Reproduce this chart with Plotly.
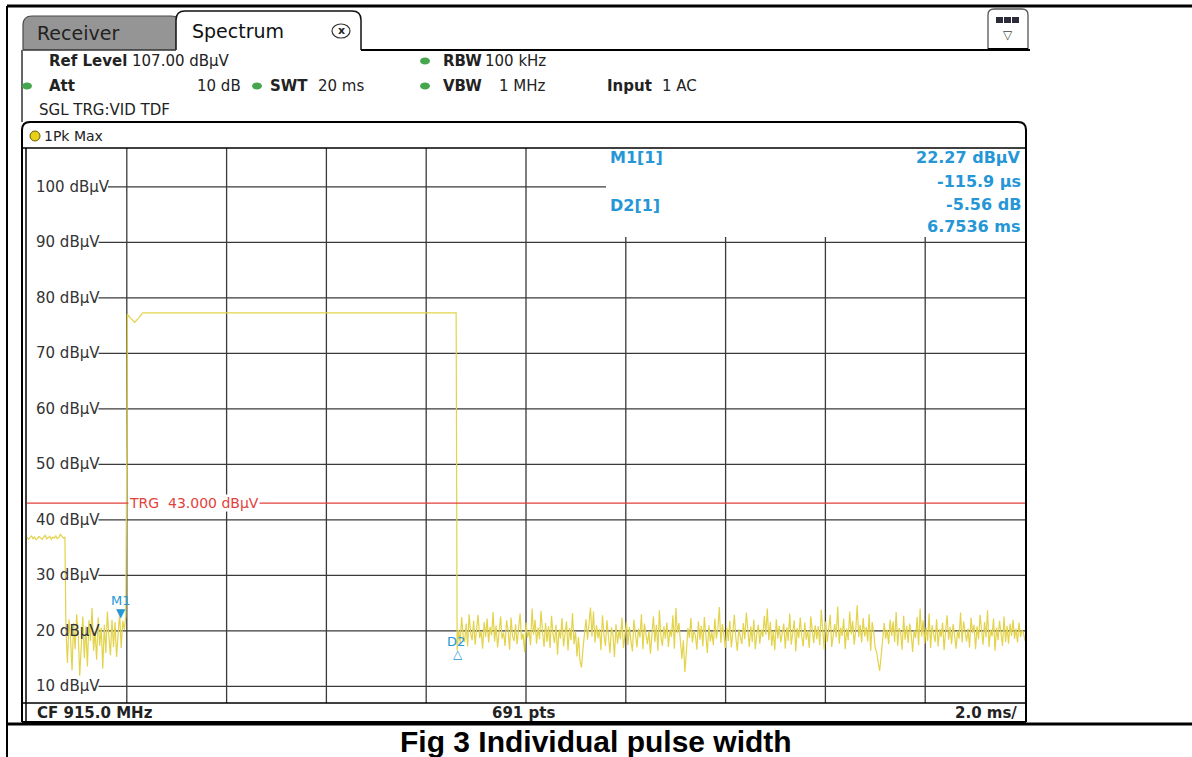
import numpy as np
import plotly.graph_objects as go

W, H = 1192, 757

# ---------------- data ----------------
pre_levels = [36.9, 36.5, 36.8, 37.1, 36.6, 36.9, 36.4, 36.8, 37.0, 36.7, 36.5, 36.9, 37.2,
              36.6, 36.8, 37.0, 36.5, 36.9, 36.7, 37.1, 36.6, 36.8, 37.4, 37.0, 36.7, 36.9]
noise1_levels = [20.3, 14.2, 22.1, 18.6, 12.9, 21.4, 16.7, 23.0, 19.5, 11.9, 17.8, 22.6, 15.1, 20.8,
                 13.6, 21.9, 18.2, 24.1, 16.4, 19.9, 14.8, 22.4, 17.3, 20.6, 13.2, 21.1, 16.0, 23.5,
                 18.9, 15.6, 22.0, 17.1, 21.6, 15.3, 19.4, 23.3, 16.9, 21.8, 20.2, 22.6]
pulse_times = [2.00, 2.01, 2.08, 2.16, 2.24, 2.32, 8.60]
pulse_levels = [55.0, 77.0, 76.3, 75.6, 76.4, 77.3, 77.3]
noise2_levels = [
    16.4, 20.2, 17.8, 22.5, 19.1, 18.0, 21.3, 17.2, 23.0, 19.6,
    18.3, 21.8, 17.5, 20.4, 22.9, 18.7, 19.9, 16.8, 21.6, 18.9,
    22.2, 17.9, 20.7, 19.2, 23.4, 18.1, 21.0, 17.0, 20.3, 22.6,
    18.6, 19.7, 17.3, 21.9, 20.1, 16.6, 22.4, 19.0, 18.2, 21.2,
    17.6, 20.9, 23.1, 18.4, 19.5, 16.2, 21.5, 18.8, 20.0, 17.4,
    24.0, 19.3, 22.0, 17.7, 20.6, 18.5, 23.6, 19.8, 17.1, 21.4,
    18.0, 20.8, 16.9, 22.7, 19.4, 17.8, 21.1, 15.7, 20.2, 18.6,
    22.3, 17.2, 19.6, 21.7, 16.4, 20.5, 18.3, 23.2, 17.6, 19.9,
    15.4, 18.9, 14.6, 13.4, 16.8, 19.7, 22.1, 18.4, 20.9, 24.2,
    19.0, 23.5, 17.9, 21.0, 18.7, 20.3, 16.5, 22.8, 19.2, 17.3,
    21.9, 18.1, 16.0, 20.6, 19.4, 15.3, 21.2, 17.7, 20.1, 18.5,
    22.4, 16.9, 19.8, 21.6, 17.4, 20.7, 18.2, 16.3, 22.0, 19.1,
    17.0, 20.4, 18.8, 23.0, 16.7, 21.3, 19.5, 17.6, 20.0, 15.9,
    19.3, 22.6, 18.0, 21.1, 16.4, 23.7, 19.0, 17.3, 20.8, 18.6,
    21.5, 17.1, 20.2, 18.9, 22.8, 16.8, 24.1, 19.6, 21.4, 17.5,
    15.0, 18.3, 12.6, 16.2, 20.5, 18.7, 22.3, 17.9, 20.0, 19.2,
    16.6, 21.7, 18.4, 20.9, 17.2, 22.5, 19.0, 16.0, 21.0, 18.1,
    19.8, 17.4, 22.2, 18.6, 20.4, 24.3, 17.8, 21.2, 19.4, 16.9,
    20.6, 18.2, 21.8, 17.0, 19.7, 22.9, 18.8, 16.4, 20.3, 19.1,
    17.6, 21.4, 18.5, 23.3, 19.9, 17.1, 20.8, 18.0, 22.0, 16.7,
    19.5, 21.1, 17.7, 20.2, 18.9, 22.7, 19.3, 24.0, 18.3, 21.6,
    17.3, 20.0, 16.5, 22.1, 18.6, 20.9, 17.9, 19.4, 21.3, 16.8,
    20.7, 18.2, 23.1, 17.5, 19.8, 21.9, 16.3, 20.5, 18.7, 22.4,
    19.0, 17.2, 21.5, 18.4, 20.1, 16.9, 22.6, 19.7, 17.8, 21.0,
    18.5, 20.8, 17.4, 23.8, 19.2, 16.6, 21.7, 18.0, 20.3, 22.9,
    17.1, 19.6, 21.2, 18.8, 24.4, 17.7, 20.6, 19.1, 22.2, 16.7,
    20.4, 18.3, 23.5, 19.4, 21.8, 17.5, 20.0, 24.6, 18.9, 21.1,
    17.9, 22.3, 19.0, 20.7, 18.1, 23.0, 16.4, 21.6, 19.8, 17.0,
    16.1, 14.3, 12.8, 15.5, 19.3, 21.4, 18.6, 20.2, 17.6, 22.0,
    19.1, 21.7, 18.0, 23.4, 17.3, 20.5, 19.7, 16.6, 22.7, 18.4,
    20.9, 17.8, 21.3, 19.5, 16.2, 20.1, 18.7, 22.5, 17.4, 24.0,
    19.0, 21.9, 17.7, 20.6, 18.2, 23.1, 16.9, 21.0, 19.4, 18.0,
    22.1, 17.2, 20.3, 18.9, 21.5, 16.5, 19.9, 22.8, 18.4, 20.7,
    17.6, 21.2, 19.2, 16.8, 20.0, 18.6, 23.3, 17.9, 21.7, 19.3,
    18.1, 20.4, 17.0, 22.4, 19.6, 21.1, 16.7, 20.8, 18.5, 22.9,
    19.4, 17.5, 21.6, 18.8, 23.7, 17.1, 20.2, 19.0, 22.2, 16.4,
    20.6, 18.3, 21.8, 19.7, 17.3, 22.6, 18.0, 20.9, 17.7, 21.3,
    19.1, 22.0, 18.6, 20.4, 17.9, 21.5, 18.9, 20.1, 19.6, 18.2,
]
pre_span = (0.0, 0.76)        # ms
noise1_span = (0.78, 1.98)    # ms
noise2_span = (8.62, 20.0)    # ms

x_ticks = [0, 2, 4, 6, 8, 10, 12, 14, 16, 18, 20]
y_ticks = [10, 20, 30, 40, 50, 60, 70, 80, 90, 100]
y_tick_labels = [f"{v} dBµV" for v in y_ticks]
y_range = [7, 107]
x_range = [0, 20]

trg_level = 43.0
trigger_time = 2.0           # ms
m1_offset_us = -115.9
m1_level = 22.27
d2_dt_ms = 6.7536
d2_dl_db = -5.56

# ---------------- trace ----------------
t = np.concatenate([
    np.linspace(*pre_span, len(pre_levels)),
    np.linspace(*noise1_span, len(noise1_levels)),
    np.array(pulse_times),
    np.linspace(*noise2_span, len(noise2_levels)),
])
v = np.concatenate([pre_levels, noise1_levels, pulse_levels, noise2_levels])

m1_t = trigger_time + m1_offset_us / 1000.0
d2_t = m1_t + d2_dt_ms
d2_level = m1_level + d2_dl_db

YEL = "#e3d34a"
BLUE = "#2596d6"
RED = "#e2413c"
GRID = "#3a3a3a"
TXT = "#222222"
FONT = "DejaVu Sans"
FS = 15

# plot area in pixels
PL, PR, PT, PB = 27, 1025, 148, 703
BOX_L, BOX_B = 606, 237

fig = go.Figure()
fig.add_trace(go.Scatter(x=t, y=v, mode="lines", line=dict(color=YEL, width=1.2),
                         hoverinfo="skip", showlegend=False))


def px(x):
    return x / W


def py(y):
    return 1 - y / H


shapes = []
annotations = []


def line(x0, y0, x1, y1, color="black", width=1.5, layer="above"):
    shapes.append(dict(type="line", xref="paper", yref="paper", x0=px(x0), y0=py(y0),
                       x1=px(x1), y1=py(y1), line=dict(color=color, width=width), layer=layer))


def rect(x0, y0, x1, y1, fill="white", color=None, width=0, layer="above"):
    shapes.append(dict(type="rect", xref="paper", yref="paper", x0=px(x0), y0=py(y0),
                       x1=px(x1), y1=py(y1), fillcolor=fill,
                       line=dict(color=color or fill, width=width), layer=layer))


def rtab(x0, y0, x1, y1, r, fill, color, width):
    p = (f"M {px(x0)},{py(y1)} L {px(x0)},{py(y0 + r)} Q {px(x0)},{py(y0)} {px(x0 + r)},{py(y0)} "
         f"L {px(x1 - r)},{py(y0)} Q {px(x1)},{py(y0)} {px(x1)},{py(y0 + r)} L {px(x1)},{py(y1)}")
    shapes.append(dict(type="path", xref="paper", yref="paper", path=p, fillcolor=fill,
                       line=dict(color=color, width=width), layer="above"))


def text(x, y, s, size=FS, color=TXT, bold=False, xanchor="left", family=FONT, yanchor="middle"):
    annotations.append(dict(xref="paper", yref="paper", x=px(x), y=py(y), text=(f"<b>{s}</b>" if bold else s),
                            showarrow=False, xanchor=xanchor, yanchor=yanchor,
                            font=dict(family=family, size=size, color=color)))


def dot(x, y, color="#45a64e"):
    shapes.append(dict(type="circle", xref="paper", yref="paper", x0=px(x - 5), x1=px(x + 5),
                       y0=py(y + 3.5), y1=py(y - 3.5), fillcolor=color, line=dict(color=color, width=0)))


EM = {"0": .636, "1": .636, "2": .636, "3": .636, "4": .636, "5": .636, "6": .636, "7": .636,
      "8": .636, "9": .636, " ": .318, "d": .635, "B": .686, "µ": .636, "V": .684}


def text_w(s, size):
    return sum(EM.get(c, .6) for c in s) * size


# ---- outer page borders ----
line(7, 6, 1192, 6, width=3)
line(7, 6, 7, 757, width=2)
line(7, 724, 1192, 724, width=3)

# ---- tabs ----
rtab(23, 16, 180, 50, 9, "#959595", "#4a4a4a", 1.2)
rtab(176, 11, 361, 50, 9, "white", "#111111", 1.5)
line(23, 50, 176, 50, color="#333", width=1.5)
line(361, 50, 1030, 50, width=2)
line(22, 50, 22, 122, color="#333", width=1.5)
text(35, 33, "Receiver", size=19, color="#222")
text(190, 31, "Spectrum", size=19, color="#111")
shapes.append(dict(type="circle", xref="paper", yref="paper", x0=px(332), x1=px(350), y0=py(38), y1=py(24),
                   fillcolor="white", line=dict(color="#333", width=1.2)))
text(341, 31, "x", size=11, color="#222", xanchor="center", bold=True)
# top-right icon
rtab(988, 9, 1028, 49, 6, "white", "#555", 1.3)
line(988, 49, 1028, 49, width=2)
for bx in (996, 1004, 1012):
    rect(bx, 17, bx + 7, 23, fill="#2b2b3a")
text(1008, 35, "▽", size=12, color="#444", xanchor="center")

# ---- header ----
text(47, 61, "Ref Level", bold=True)
text(130, 61, "107.00 dBµV")
dot(425, 61)
text(441, 61, "RBW", bold=True)
text(548, 61, "100 kHz", xanchor="right")
dot(27, 86)
text(47, 86, "Att", bold=True)
text(243, 86, "10 dB", xanchor="right")
dot(257, 86)
text(268, 86, "SWT", bold=True)
text(316, 86, "20 ms")
dot(425, 86)
text(441, 86, "VBW", bold=True)
text(548, 86, "1 MHz", xanchor="right")
text(605, 86, "Input", bold=True)
text(660, 86, "1 AC")
text(37, 110, "SGL TRG:VID TDF")

# ---- plot frame ----
rtab(22, 122, 1026, 722, 8, "rgba(0,0,0,0)", "black", 2)
line(22, 722, 1026, 722, width=2)
line(26, PT, 26, 722, width=1.5)
line(22, PT, 1026, PT, width=1.5)
line(22, PB, 1026, PB, width=1.5)
shapes.append(dict(type="circle", xref="paper", yref="paper", x0=px(30), x1=px(40), y0=py(141), y1=py(131),
                   fillcolor="#e8cf1a", line=dict(color="#6b5b00", width=1)))
text(42, 136, "1Pk Max", size=14)
text(35, 713, "CF 915.0 MHz", bold=True)
text(523, 713, "691 pts", bold=True, xanchor="center")
text(1019, 713, "2.0 ms/", bold=True, xanchor="right")

# ---- grid (drawn as shapes below the trace) ----
for xv in x_ticks[1:-1]:
    xpix = PL + (xv - x_range[0]) / (x_range[1] - x_range[0]) * (PR - PL)
    top = BOX_B if xpix > BOX_L else PT
    shapes.append(dict(type="line", xref="x", yref="paper", x0=xv, x1=xv, y0=py(top), y1=py(PB),
                       line=dict(color=GRID, width=1.3), layer="below"))
for val, lab in zip(y_ticks, y_tick_labels):
    x_start = 34 + text_w(lab, FS) + 1
    ypix = PT + (y_range[1] - val) / (y_range[1] - y_range[0]) * (PB - PT)
    x_end = BOX_L if ypix < BOX_B else PR
    shapes.append(dict(type="line", xref="paper", yref="y", x0=px(x_start), x1=px(x_end), y0=val, y1=val,
                       line=dict(color=GRID, width=1.3), layer="below"))
    annotations.append(dict(xref="paper", yref="y", x=px(34), y=val, text=lab, showarrow=False,
                            xanchor="left", yanchor="middle", font=dict(family=FONT, size=FS, color="#333")))

# ---- marker info box ----
text(608, 158, "M1[1]", size=16, color=BLUE, bold=True)
text(1023, 158, f"{m1_level:.2f} dBµV", size=16, color=BLUE, bold=True, xanchor="right")
text(1023, 181, f"{m1_offset_us:.1f} µs", size=16, color=BLUE, bold=True, xanchor="right")
text(608, 205, "D2[1]", size=16, color=BLUE, bold=True)
text(1023, 204, f"{d2_dl_db:.2f} dB", size=16, color=BLUE, bold=True, xanchor="right")
text(1023, 227, f"{d2_dt_ms:.4f} ms", size=16, color=BLUE, bold=True, xanchor="right")

# ---- trigger line ----
shapes.append(dict(type="line", xref="paper", yref="y", x0=px(PL), x1=px(PR), y0=trg_level, y1=trg_level,
                   line=dict(color=RED, width=1.3), layer="above"))
annotations.append(dict(xref="x", yref="y", x=trigger_time, y=trg_level, xshift=1,
                        text=f"TRG  {trg_level:.3f} dBµV", showarrow=False, xanchor="left", yanchor="middle",
                        bgcolor="white", borderpad=0, font=dict(family=FONT, size=14, color=RED)))

# ---- markers ----
annotations.append(dict(xref="x", yref="y", x=m1_t, y=m1_level, text="▼", showarrow=False,
                        xanchor="center", yanchor="bottom", yshift=-4, font=dict(family=FONT, size=12, color=BLUE)))
annotations.append(dict(xref="x", yref="y", x=m1_t, y=m1_level, text="M1", showarrow=False,
                        xanchor="center", yanchor="bottom", yshift=8, font=dict(family=FONT, size=13, color=BLUE)))
annotations.append(dict(xref="x", yref="y", x=d2_t, y=d2_level, text="△", showarrow=False,
                        xanchor="center", yanchor="top", yshift=4, font=dict(family=FONT, size=12, color=BLUE)))
annotations.append(dict(xref="x", yref="y", x=d2_t, y=d2_level, text="D2", showarrow=False,
                        xanchor="center", yanchor="bottom", xshift=-2, yshift=-2,
                        font=dict(family=FONT, size=13, color=BLUE)))

# ---- caption ----
text(596, 741, "Fig 3 Individual pulse width", size=30, bold=True, xanchor="center",
     family="Liberation Sans", color="#000")

fig.update_layout(
    width=W, height=H, margin=dict(l=0, r=0, t=0, b=0),
    paper_bgcolor="white", plot_bgcolor="white", showlegend=False,
    xaxis=dict(domain=[px(PL), px(PR)], range=x_range, tickvals=x_ticks, showticklabels=False,
               showgrid=False, zeroline=False, showline=False, ticks=""),
    yaxis=dict(domain=[py(PB), py(PT)], range=y_range, tickvals=y_ticks, showticklabels=False,
               showgrid=False, zeroline=False, showline=False, ticks=""),
    shapes=shapes, annotations=annotations,
)

fig.write_html("out.html", config={"displayModeBar": False},
               post_script="document.body.style.margin='0';document.body.style.overflow='hidden';")
